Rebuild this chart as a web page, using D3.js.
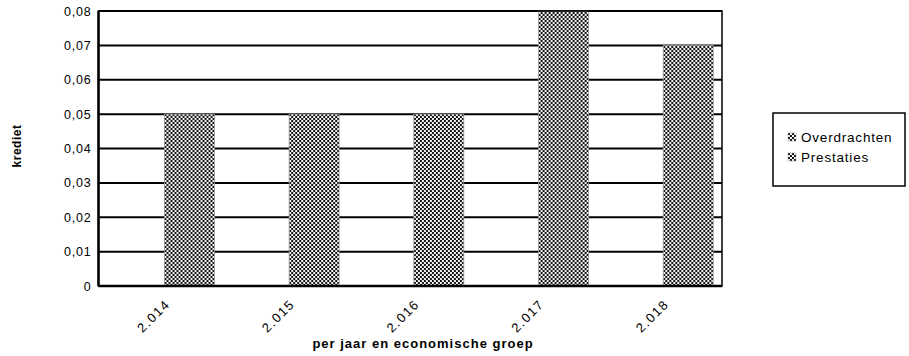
<!DOCTYPE html>
<html>
<head>
<meta charset="utf-8">
<script src="https://cdn.jsdelivr.net/npm/d3@7"></script>
<style>
  html, body { margin: 0; padding: 0; background: #fff; }
  svg { display: block; font-family: "Liberation Sans", Arial, sans-serif; }
</style>
</head>
<body>
<svg id="chart" width="909" height="356"></svg>
<script>
// Credit per year, split by economic group
const years = ["2.014", "2.015", "2.016", "2.017", "2.018"];
const seriesNames = ["Overdrachten", "Prestaties"];
const overdrachten = [0, 0, 0, 0, 0];
const prestaties = [0.05, 0.05, 0.05, 0.08, 0.07];
const yTicks = [0, 0.01, 0.02, 0.03, 0.04, 0.05, 0.06, 0.07, 0.08];
const yTitle = "krediet";
const xTitle = "per jaar en economische groep";

const seriesValues = [overdrachten, prestaties];
const rows = years.map((yr, i) => ({
  year: yr,
  values: seriesNames.map((s, k) => ({ series: s, value: seriesValues[k][i] }))
}));

const svg = d3.select("#chart");
const plot = { left: 98.5, right: 722, top: 11, bottom: 286 };

const x = d3.scaleBand().domain(years).range([plot.left, plot.right]).padding(0);
const xSub = d3.scaleBand().domain(seriesNames)
  .range([0, x.bandwidth()]).paddingInner(0).paddingOuter(0.248).align(0.645);
const y = d3.scaleLinear().domain([0, 0.08]).range([plot.bottom, plot.top]);

// checkered fill used for both series
const defs = svg.append("defs");
const pat = defs.append("pattern").attr("id", "checker")
  .attr("patternUnits", "userSpaceOnUse").attr("width", 4).attr("height", 4);
pat.append("rect").attr("width", 4).attr("height", 4).attr("fill", "#f2f2f2");
pat.append("rect").attr("x", 0).attr("y", 0).attr("width", 2).attr("height", 2).attr("fill", "#151515");
pat.append("rect").attr("x", 2).attr("y", 2).attr("width", 2).attr("height", 2).attr("fill", "#151515");

// horizontal gridlines
svg.append("g")
  .selectAll("line").data(yTicks).join("line")
  .attr("x1", plot.left).attr("x2", plot.right)
  .attr("y1", d => y(d)).attr("y2", d => y(d))
  .attr("stroke", "#000").attr("stroke-width", 2);

// bars
svg.append("g")
  .selectAll("g").data(rows).join("g")
  .attr("transform", d => `translate(${x(d.year)},0)`)
  .selectAll("rect").data(d => d.values.filter(v => v.value > 0)).join("rect")
  .attr("x", d => xSub(d.series))
  .attr("width", xSub.bandwidth())
  .attr("y", d => y(d.value))
  .attr("height", d => y(0) - y(d.value))
  .attr("fill", "url(#checker)")
  .attr("stroke", "#999").attr("stroke-width", 0.8);

// plot frame
svg.append("rect")
  .attr("x", plot.left).attr("y", plot.top)
  .attr("width", plot.right - plot.left).attr("height", plot.bottom - plot.top)
  .attr("fill", "none").attr("stroke", "#000").attr("stroke-width", 1.5);
svg.append("line")
  .attr("x1", plot.left).attr("x2", plot.left).attr("y1", plot.top).attr("y2", plot.bottom)
  .attr("stroke", "#000").attr("stroke-width", 2.5);
svg.append("line")
  .attr("x1", plot.left).attr("x2", plot.right).attr("y1", plot.bottom).attr("y2", plot.bottom)
  .attr("stroke", "#000").attr("stroke-width", 2.5);

// y axis labels
const yAxis = d3.axisLeft(y).tickValues(yTicks).tickSize(0).tickPadding(7)
  .tickFormat(d => d === 0 ? "0" : d3.format(".2f")(d).replace(".", ","));
const yg = svg.append("g").attr("transform", `translate(${plot.left},0)`).call(yAxis);
yg.select(".domain").remove();
yg.selectAll("text").attr("font-size", 12.5).attr("fill", "#000")
  .attr("letter-spacing", 0.8)
  .attr("font-family", "Liberation Sans, Arial, sans-serif");

// x axis labels, rotated
const xAxis = d3.axisBottom(x).tickSize(0).tickPadding(0);
const xg = svg.append("g").attr("transform", `translate(0,${plot.bottom})`).call(xAxis);
xg.select(".domain").remove();
xg.selectAll("text")
  .attr("font-size", 13).attr("fill", "#000")
  .attr("letter-spacing", 1.5)
  .attr("font-family", "Liberation Sans, Arial, sans-serif")
  .attr("text-anchor", "end")
  .attr("y", 0).attr("dy", 0)
  .attr("transform", "translate(10,19) rotate(-45)");

// axis titles
svg.append("text")
  .attr("transform", "translate(21,146) rotate(-90)")
  .attr("text-anchor", "middle")
  .attr("font-size", 12).attr("font-weight", "bold").attr("letter-spacing", 0.5)
  .text(yTitle);
svg.append("text")
  .attr("x", 423).attr("y", 348)
  .attr("text-anchor", "middle")
  .attr("font-size", 13).attr("font-weight", "bold").attr("letter-spacing", 1)
  .text(xTitle);

// legend
const legend = svg.append("g").attr("transform", "translate(773,113)");
legend.append("rect").attr("width", 132).attr("height", 73)
  .attr("fill", "#fff").attr("stroke", "#000").attr("stroke-width", 1.5);
const li = legend.selectAll("g").data(seriesNames).join("g")
  .attr("transform", (d, i) => `translate(15,${24 + i * 20})`);
li.append("rect").attr("x", 0).attr("y", -4).attr("width", 8).attr("height", 8)
  .attr("fill", "url(#checker)").attr("stroke", "#999").attr("stroke-width", 0.5);
li.append("text").attr("x", 13).attr("y", 0).attr("dy", "0.35em")
  .attr("font-size", 13.5).attr("letter-spacing", 0.8).text(d => d);
</script>
</body>
</html>
